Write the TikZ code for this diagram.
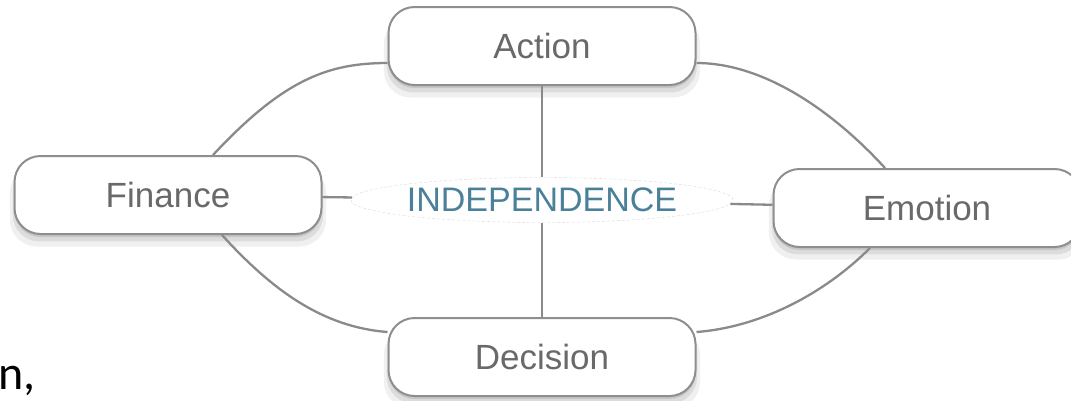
\documentclass[tikz,border=0pt]{standalone}
\usepackage{fontspec}
\setmainfont{Liberation Sans}
\newfontfamily\slidefont{Carlito}
\usetikzlibrary{shapes.geometric,shadows}
\definecolor{boxline}{RGB}{142,142,142}
\definecolor{boxtext}{RGB}{105,105,105}
\definecolor{linkgray}{RGB}{138,138,138}
\definecolor{hubblue}{RGB}{74,128,153}

\begin{document}
\begin{tikzpicture}[x=1pt, y=-1pt,
  topic/.style = {shape=rectangle, rounded corners=26pt,
    draw=boxline, line width=2pt, fill=white,
    minimum width=307pt, minimum height=78pt,
    text=boxtext, font=\fontsize{35}{40}\selectfont,
    drop shadow={shadow xshift=0pt, shadow yshift=-11pt, shadow scale=1.03, opacity=.12},
    drop shadow={shadow xshift=0pt, shadow yshift=-7pt, shadow scale=1.01, opacity=.18},
    drop shadow={shadow xshift=0pt, shadow yshift=-3pt, opacity=.25}},
  hub/.style = {shape=ellipse, draw=black!15, densely dashed, thin,
    fill=white, minimum width=323pt, minimum height=45pt, inner sep=0pt,
    text=hubblue, font=\fontsize{34}{40}\selectfont},
  link/.style = {draw=linkgray, line width=2.3pt}]
  \clip (0,0) rectangle (1071,400);

  % the four topics round the hub
  \node [topic] (action) at (542,46) {Action};
  \node [topic] (finance) at (168,195) {Finance};
  \node [topic] (emotion) at (927,208) {Emotion};
  \node [topic] (decision) at (542,357) {Decision};
  \node [hub] (indep) at (542,200) {INDEPENDENCE};

  % spokes
  \draw [link] (action) -- (indep);
  \draw [link] (indep) -- (decision);
  \draw [link] (finance) -- (indep);
  \draw [link] (indep) -- (emotion);

  % outer ring
  \draw [link] ([xshift=45pt]finance.north) .. controls +(70,-75) and +(-60,0) .. ([yshift=-17pt]action.west);
  \draw [link] ([yshift=-17pt]action.east) .. controls +(65,0) and +(-55,-60) .. ([xshift=-42pt]emotion.north);
  \draw [link] ([xshift=54pt]finance.south) .. controls +(50,55) and +(-65,-5) .. ([yshift=25pt]decision.west);
  \draw [link] ([xshift=-57pt]emotion.south) .. controls +(-45,45) and +(65,-5) .. ([yshift=25pt]decision.east);

  \node [font=\slidefont\fontsize{48}{50}\selectfont, anchor=base east, inner sep=0pt] (slidetext) at (36,389) {n,};
\end{tikzpicture}
\end{document}
